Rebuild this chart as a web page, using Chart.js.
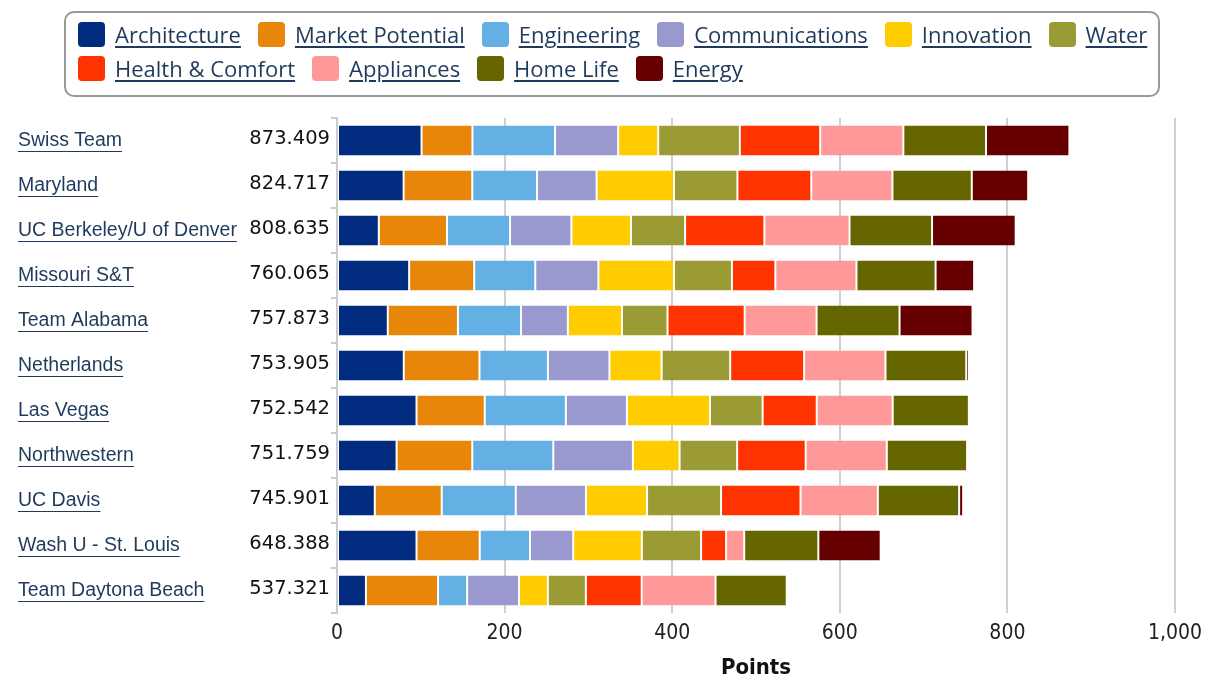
<!DOCTYPE html>
<html>
<head>
<meta charset="utf-8">
<script src="https://cdn.jsdelivr.net/npm/chart.js@4"></script>
<style>
  body { margin: 0; background: #fff; }
  #wrap { position: relative; width: 1219px; height: 686px; }
  #legend {
    position: absolute; left: 64px; top: 11px; width: 1096px; height: 86px;
    box-sizing: border-box; border: 2px solid #999; border-radius: 10px;
    padding: 4px 0 0 12px; display: flex; flex-wrap: wrap; align-content: flex-start;
    column-gap: 17px;
    font-family: "Open Sans", sans-serif; font-size: 22px; color: #1f3a5c;
  }
  .item { display: flex; align-items: center; height: 34px; }
  .sw { width: 27px; height: 25px; border-radius: 4px; margin-right: 10px; }
  .item span { text-decoration: underline; text-underline-offset: 3px; }
  #c { position: absolute; left: 0; top: 0; }
</style>
</head>
<body>
<div id="wrap">
  <canvas id="c" width="1219" height="686"></canvas>
  <div id="legend"></div>
</div>
<script>
var teams = ["Swiss Team", "Maryland", "UC Berkeley/U of Denver", "Missouri S&T", "Team Alabama",
  "Netherlands", "Las Vegas", "Northwestern", "UC Davis", "Wash U - St. Louis", "Team Daytona Beach"];
var totals = ["873.409", "824.717", "808.635", "760.065", "757.873", "753.905", "752.542",
  "751.759", "745.901", "648.388", "537.321"];
var categories = ["Architecture", "Market Potential", "Engineering", "Communications", "Innovation",
  "Water", "Health & Comfort", "Appliances", "Home Life", "Energy"];
var colors = ["#002b7f", "#e8860a", "#64b0e4", "#9a99cf", "#ffcc00",
  "#9b9b35", "#ff3300", "#ff9999", "#666600", "#660000"];

var architecture = [100.9, 79.5, 49.9, 86.1, 60.6, 79.7, 94.9, 71.1, 45.1, 94.9, 34.5];
var marketPotential = [60.7, 81.9, 81.3, 77.6, 83.7, 90.3, 81.4, 90.3, 79.9, 75.4, 86.1];
var engineering = [98.6, 77.3, 75.3, 72.9, 75.3, 81.7, 96.8, 96.7, 88.3, 60.0, 34.7];
var communications = [75.3, 71.1, 73.2, 75.3, 55.9, 73.4, 72.9, 95.0, 83.8, 51.6, 61.9];
var innovation = [47.8, 92.3, 71.1, 90.3, 64.6, 62.3, 99.1, 55.7, 72.9, 81.9, 34.4];
var water = [97.4, 75.7, 64.6, 69.1, 54.3, 81.8, 62.8, 68.7, 88.3, 70.7, 45.4];
var healthComfort = [95.9, 88.2, 94.6, 51.8, 92.1, 88.2, 64.6, 81.8, 94.8, 29.8, 66.6];
var appliances = [99.2, 96.8, 101.6, 96.8, 85.8, 97.1, 90.6, 96.8, 92.3, 21.6, 88.1];
var homeLife = [98.7, 94.7, 98.5, 94.4, 99.0, 96.4, 90.9, 95.8, 97.0, 88.5, 85.0];
var energy = [99.5, 67.3, 99.8, 46.0, 87.1, 3.2, 0, 0, 4.8, 74.4, 0];

var series = [architecture, marketPotential, engineering, communications, innovation,
  water, healthComfort, appliances, homeLife, energy];

var nameFont = { family: "'Liberation Sans', Arial, sans-serif", size: 19.5 };
var nameColor = "#1f3a5c";

// html legend (underlined like links)
var legendEl = document.getElementById("legend");
categories.forEach(function (c, i) {
  var it = document.createElement("div");
  it.className = "item";
  it.innerHTML = '<div class="sw" style="background:' + colors[i] + '"></div><span></span>';
  it.querySelector("span").textContent = c;
  legendEl.appendChild(it);
});

// underline team names and write totals next to the axis
var labelExtras = {
  id: "labelExtras",
  afterDraw: function (chart) {
    var ctx = chart.ctx;
    var y = chart.scales.y;
    ctx.save();
    ctx.font = nameFont.size + "px " + nameFont.family;
    ctx.strokeStyle = nameColor;
    ctx.lineWidth = 1;
    teams.forEach(function (t, i) {
      var py = y.getPixelForTick(i);
      var w = ctx.measureText(t).width;
      ctx.beginPath();
      ctx.moveTo(y.left, Math.round(py + 10) + 0.5);
      ctx.lineTo(y.left + w, Math.round(py + 10) + 0.5);
      ctx.stroke();
    });
    ctx.font = "19.5px 'DejaVu Sans', Verdana, sans-serif";
    ctx.fillStyle = "#111";
    ctx.textAlign = "right";
    ctx.textBaseline = "middle";
    totals.forEach(function (v, i) {
      ctx.fillText(v, chart.chartArea.left - 7, y.getPixelForTick(i) - 2);
    });
    ctx.restore();
  }
};

var ctx = document.getElementById("c").getContext("2d");
var chart = new Chart(ctx, {
  type: "bar",
  data: {
    labels: teams,
    datasets: categories.map(function (c, i) {
      return {
        label: c,
        data: series[i],
        backgroundColor: colors[i],
        borderColor: "#fff",
        borderWidth: { left: 1, right: 1, top: 0, bottom: 0 },
        borderSkipped: false,
        barPercentage: 0.667,
        categoryPercentage: 1
      };
    })
  },
  options: {
    indexAxis: "y",
    responsive: false,
    animation: false,
    layout: { padding: { top: 118, left: 18, right: 44, bottom: 3 } },
    plugins: {
      legend: { display: false },
      tooltip: { enabled: false }
    },
    scales: {
      x: {
        stacked: true,
        min: 0,
        max: 1000,
        afterFit: function (scale) { scale.height = 70; },
        ticks: {
          stepSize: 200,
          padding: 8,
          color: "#222",
          font: { family: "'Liberation Sans Narrow', 'DejaVu Sans Condensed', sans-serif", size: 21 }
        },
        grid: { color: "#d0d0d0", lineWidth: 2, drawTicks: false },
        border: { display: false },
        title: {
          display: true,
          text: "Points",
          color: "#111",
          padding: { top: 4, bottom: 2 },
          font: { family: "'Liberation Sans Narrow', 'DejaVu Sans Condensed', sans-serif", size: 22, weight: "bold" }
        }
      },
      y: {
        stacked: true,
        afterFit: function (scale) { scale.width = 319; },
        ticks: {
          autoSkip: false,
          crossAlign: "far",
          color: nameColor,
          font: nameFont
        },
        grid: { offset: true, drawOnChartArea: false, color: "#ccc", tickLength: 6, lineWidth: 2 },
        border: { color: "#ccc", width: 2 }
      }
    }
  },
  plugins: [labelExtras]
});
</script>
</body>
</html>
